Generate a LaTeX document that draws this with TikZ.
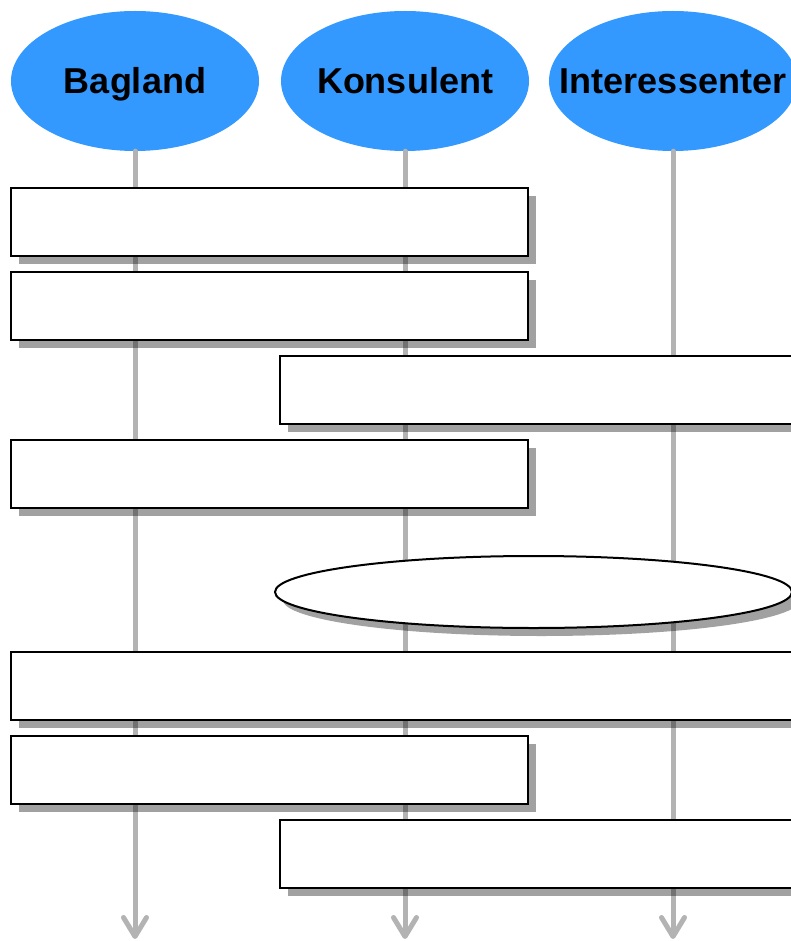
\documentclass[tikz,border=0pt]{standalone}
\usepackage{fontspec}
\setmainfont{Liberation Sans}
\usetikzlibrary{shapes.geometric,shadows,arrows.meta}
\definecolor{headblue}{RGB}{51,153,255}
\definecolor{lifegray}{RGB}{179,179,179}
\newcommand{\hdtext}[1]{\makebox[0pt][c]{#1}}
\begin{document}
\begin{tikzpicture}[x=1pt,y=-1pt,
  head/.style={ellipse, fill=headblue, minimum width=248pt, minimum height=140pt,
    inner sep=0pt, font=\fontsize{36}{40}\selectfont\bfseries, text height=26pt, text depth=0pt},
  life/.style={draw=lifegray, line width=5pt, line cap=round,
    -{Straight Barb[length=19pt,width=23pt,round]}},
  shadowed/.style={draw=black, line width=2pt, fill=white, inner sep=0pt,
    drop shadow={shadow xshift=8pt, shadow yshift=-8pt, fill=black, opacity=0.37}},
  msgbox/.style={shadowed, rectangle, minimum height=68pt},
  notebox/.style={shadowed, ellipse, minimum width=517pt, minimum height=72pt},
]
\useasboundingbox (0,0) rectangle (791,941);
\clip (0,0) rectangle (791,941);
% headers
\node[head] (bag) at (135,81) {\hdtext{Bagland}};
\node[head] (kon) at (405,81) {\hdtext{Konsulent}};
\node[head] (int) at (673,81) {\hdtext{Interessenter}};
% lifeline ends
\coordinate (bagend) at (135,939);
\coordinate (konend) at (405,939);
\coordinate (intend) at (673,939);
\draw[life] (bag.south) -- (bagend);
\draw[life] (kon.south) -- (konend);
\draw[life] (int.south) -- (intend);
% messages
\node[msgbox, minimum width=517pt] (m1) at (269.5,222) {};
\node[msgbox, minimum width=517pt] (m2) at (269.5,306) {};
\node[msgbox, minimum width=520pt] (m3) at (540,390) {};
\node[msgbox, minimum width=517pt] (m4) at (269.5,474) {};
\node[notebox] (note) at (533.5,592) {};
\node[msgbox, minimum width=789pt] (m5) at (405.5,686) {};
\node[msgbox, minimum width=517pt] (m6) at (269.5,770) {};
\node[msgbox, minimum width=520pt] (m7) at (540,854) {};
\end{tikzpicture}
\end{document}
